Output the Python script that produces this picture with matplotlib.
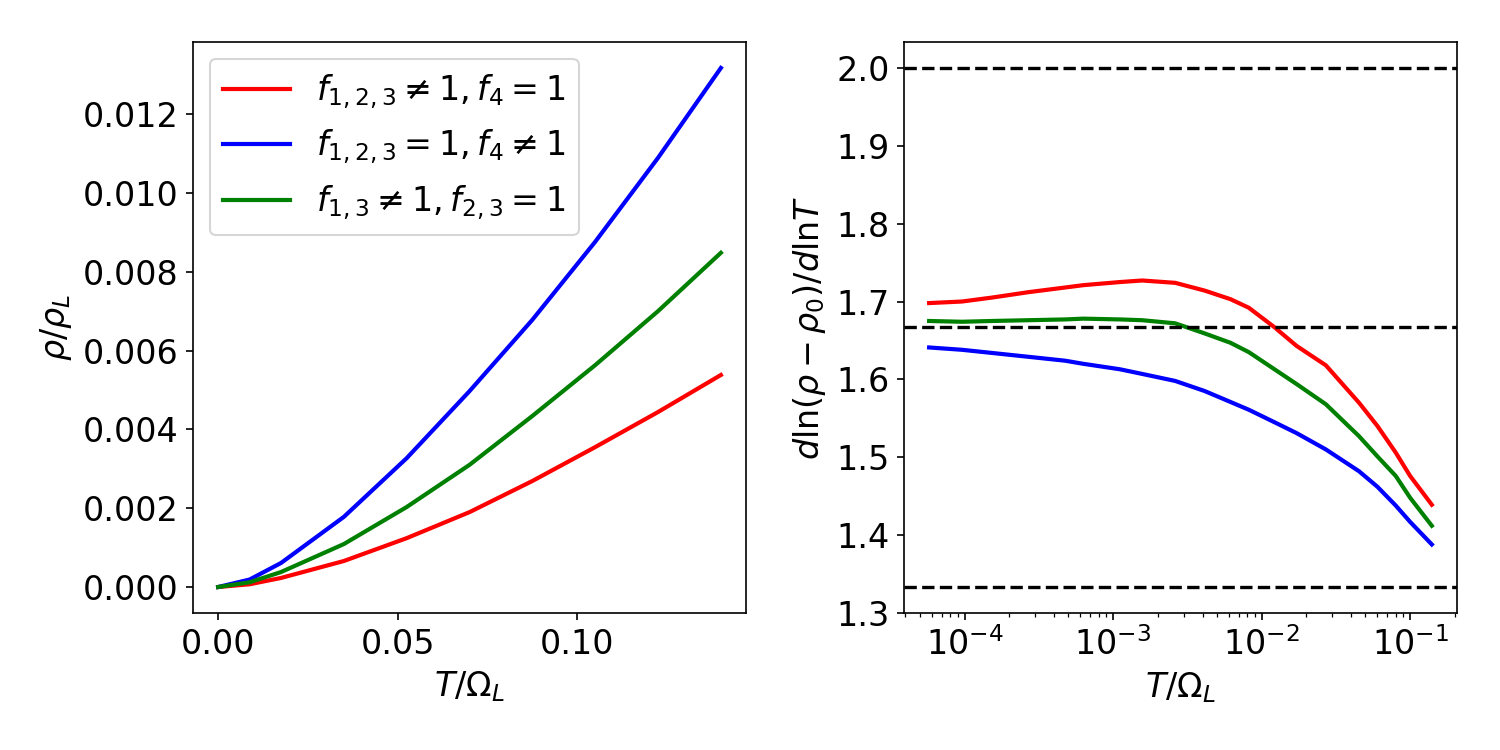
import numpy as np
import matplotlib
matplotlib.use("Agg")
import matplotlib.pyplot as plt

plt.rcParams.update({
    'font.size': 16,
    'axes.labelsize': 16,
    'xtick.labelsize': 16,
    'ytick.labelsize': 16,
    'legend.fontsize': 16,
})

# ---------------- left panel: rho / rho_L vs T / Omega_L ----------------
T_lin = [0.0, 0.00875, 0.0175, 0.035, 0.0525, 0.07, 0.0875, 0.105, 0.1225, 0.14]
rho_red = [0.0, 0.00007, 0.00023, 0.00066, 0.00124, 0.0019, 0.00269, 0.00355, 0.00444, 0.00538]
rho_blue = [0.0, 0.00019, 0.00061, 0.00178, 0.00327, 0.00497, 0.00678, 0.00876, 0.01089, 0.01317]
rho_green = [0.0, 0.00012, 0.00038, 0.00109, 0.00203, 0.0031, 0.00434, 0.00563, 0.007, 0.00848]

# ---------------- right panel: log derivative vs T (log axis) ----------------
T_log = [5.77e-5, 9.6e-5, 1.52e-4, 2.69e-4, 4.75e-4, 6.3e-4, 1.11e-3, 1.57e-3,
         2.62e-3, 4.14e-3, 6.17e-3, 8.2e-3, 1.22e-2, 1.72e-2, 2.71e-2, 4.53e-2,
         6.03e-2, 8.0e-2, 0.1, 0.14]
slope_red = [1.698, 1.700, 1.705, 1.712, 1.718, 1.721, 1.725, 1.727, 1.724, 1.714,
             1.703, 1.692, 1.667, 1.643, 1.618, 1.570, 1.540, 1.506, 1.476, 1.439]
slope_blue = [1.641, 1.638, 1.634, 1.629, 1.624, 1.620, 1.613, 1.607, 1.598, 1.585,
              1.571, 1.561, 1.545, 1.531, 1.510, 1.482, 1.462, 1.438, 1.417, 1.388]
slope_green = [1.675, 1.674, 1.675, 1.676, 1.677, 1.678, 1.677, 1.676, 1.672, 1.659,
               1.647, 1.635, 1.613, 1.594, 1.568, 1.527, 1.501, 1.476, 1.448, 1.412]

ref_slopes = [2.0, 5.0 / 3.0, 4.0 / 3.0]

labels = [r'$f_{1,2,3}\neq1, f_4=1$',
          r'$f_{1,2,3}=1, f_4\neq1$',
          r'$f_{1,3}\neq1, f_{2,3}=1$']
colors = ['red', 'blue', 'green']

fig, axs = plt.subplots(1, 2, figsize=(10, 5), dpi=150)
fig.subplots_adjust(left=0.1287, right=0.9713, bottom=0.1827, top=0.944, wspace=0.2857)

ax = axs[0]
for y, c, lab in zip([rho_red, rho_blue, rho_green], colors, labels):
    ax.plot(T_lin, y, color=c, lw=2, label=lab)
ax.set_xlabel(r'$T/\Omega_L$')
ax.set_ylabel(r'$\rho/\rho_L$')
ax.legend(loc='upper left')

ax = axs[1]
for y, c in zip([slope_red, slope_blue, slope_green], colors):
    ax.plot(T_log, y, color=c, lw=2)
for s in ref_slopes:
    ax.axhline(s, color='black', ls='--', lw=1.6)
ax.set_xscale('log')
ax.set_ylim(1.3, 2.0333)
ax.set_xlabel(r'$T/\Omega_L$')
ax.set_ylabel(r'$d\ln(\rho-\rho_0)/d\mathrm{ln}T$')

plt.savefig('out.png')
